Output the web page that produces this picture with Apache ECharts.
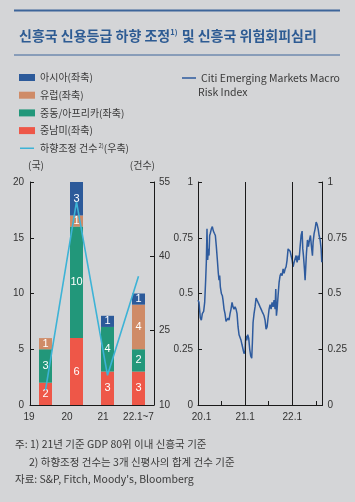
<!DOCTYPE html>
<html><head><meta charset="utf-8">
<script src="https://cdn.jsdelivr.net/npm/echarts@6/dist/echarts.min.js"></script>
<style>html,body{margin:0;padding:0;background:#d4d5d7;}#c{width:355px;height:502px;}</style>
</head><body><div id="c"></div>
<script>
// ---- data ----
const categories = ['19', '20', '21', '22.1~7'];
const latam = [2, 6, 3, 3];          // 중남미
const mea = [3, 10, 4, 2];           // 중동/아프리카
const europe = [1, 1, 0, 4];         // 유럽
const asia = [0, 3, 1, 1];           // 아시아
const downgrades = [13, 51, 16, 36]; // 하향조정 건수 (우축)
const leftTicks = [0, 5, 10, 15, 20];
const rightTicks = [10, 25, 40, 55];
const riskTicks = [0, 0.25, 0.5, 0.75, 1];
const riskDateLabels = {0: '20.1', 12: '21.1', 24: '22.1'};
// months since 2020-01
const riskMonths = [0,0.25,0.59,0.85,1.10,1.44,1.70,1.95,2.12,2.29,2.46,2.63,2.80,2.97,3.14,3.40,3.65,3.91,4.16,4.42,4.67,4.93,5.18,5.35,5.52,5.69,5.95,6.20,6.37,6.63,6.88,7.14,7.39,7.65,7.90,8.16,8.41,8.67,8.92,9.18,9.43,9.69,9.94,10.20,10.45,10.71,10.96,11.21,11.47,11.72,11.98,12.15,12.40,12.66,12.91,13.17,13.42,13.68,13.85,14.02,14.27,14.53,14.78,15.04,15.29,15.55,15.80,16.06,16.31,16.57,16.82,17.08,17.33,17.59,17.84,18.10,18.35,18.61,18.86,19.12,19.37,19.63,19.80,19.97,20.14,20.39,20.65,20.90,21.16,21.41,21.67,21.92,22.18,22.43,22.68,22.94,23.19,23.45,23.70,23.96,24.21,24.47,24.72,24.98,25.23,25.49,25.74,26.00,26.25,26.51,26.68,26.85,27.10,27.27,27.44,27.61,27.87,28.12,28.38,28.63,28.89,29.14,29.31,29.57,29.82,30.08,30.33,30.59,30.84,31.10,31.35,31.52];
const riskValues = [0.47,0.46,0.39,0.38,0.41,0.42,0.46,0.56,0.64,0.79,0.65,0.70,0.67,0.76,0.77,0.79,0.80,0.78,0.77,0.76,0.71,0.65,0.59,0.56,0.58,0.53,0.50,0.49,0.47,0.43,0.41,0.375,0.37,0.39,0.38,0.41,0.43,0.46,0.44,0.43,0.44,0.43,0.41,0.35,0.315,0.31,0.29,0.27,0.25,0.23,0.24,0.31,0.29,0.315,0.30,0.25,0.22,0.21,0.28,0.37,0.41,0.44,0.48,0.47,0.46,0.45,0.44,0.43,0.42,0.41,0.40,0.38,0.34,0.35,0.39,0.43,0.45,0.43,0.46,0.44,0.47,0.43,0.52,0.40,0.43,0.49,0.55,0.58,0.59,0.58,0.61,0.59,0.61,0.62,0.65,0.70,0.70,0.69,0.67,0.65,0.62,0.64,0.64,0.67,0.64,0.67,0.65,0.71,0.76,0.78,0.70,0.67,0.61,0.56,0.62,0.68,0.74,0.71,0.74,0.76,0.71,0.67,0.73,0.77,0.79,0.82,0.81,0.79,0.76,0.74,0.70,0.64];

// ---- styling ----
const NUM = 'Liberation Sans, Arial, sans-serif';
const KR = '"Noto Sans CJK KR", sans-serif';
const AX = '#1a1a1a';
const TXT = '#3a3a3a';
const C = {asia:'#2c5a9a', eu:'#cf8b67', mea:'#22977a', latam:'#ee5748', line:'#3db3d6', risk:'#2e5b9e'};
const labelPad = [33, 19, 9, 0];
const lineIcon = 'path://M0,0h0.01v0.01h-0.01zM0,3.1h16v1.8h-16zM15.99,7.99h0.01v0.01h-0.01z';

const chart = echarts.init(document.getElementById('c'), null, {renderer:'canvas'});
const barLabel = {show:true, color:'#fff', fontSize:11, fontFamily:NUM, formatter: p => p.value ? p.value : ''};
function bar(name, data, color){
  return {name, type:'bar', stack:'a', xAxisIndex:0, yAxisIndex:0, barWidth:13, data,
    itemStyle:{color}, label:barLabel, emphasis:{disabled:true}};
}
const axisLine = {show:true, lineStyle:{color:AX, width:1}};
const tickIn = {show:true, inside:true, length:4, lineStyle:{color:AX}};
const numLabel = {color:'#333', fontSize:10, fontFamily:NUM};
const noteFont = '10.5px "Noto Sans CJK KR", sans-serif';

chart.setOption({
  backgroundColor:'#d4d5d7',
  animation:false,
  title:{
    text:'{a|신흥국 신용등급 하향 조정}{s|1)}{a| 및 신흥국 위험회피심리}',
    left:14, top:23,
    textStyle:{rich:{
      a:{fontSize:14, fontWeight:'bold', color:'#2d5b93', fontFamily:KR},
      s:{fontSize:7.5, fontWeight:'bold', color:'#2d5b93', fontFamily:KR, padding:[0,1,8,0]}
    }}
  },
  graphic:[
    {type:'line', shape:{x1:14, y1:10.5, x2:340, y2:10.5}, style:{stroke:'#3d659a', lineWidth:2}},
    {type:'line', shape:{x1:14, y1:55, x2:340, y2:55}, style:{stroke:'#3d659a', lineWidth:1}},
    {type:'text', left:198, top:86.5, style:{text:'Risk Index', font:'10.5px "Noto Sans CJK KR", sans-serif', fill:TXT}},
    {type:'text', left:15, top:439, style:{text:'주: 1) 21년 기준 GDP 80위 이내 신흥국 기준', font:noteFont, fill:TXT}},
    {type:'text', left:29, top:457, style:{text:'2) 하향조정 건수는 3개 신평사의 합계 건수 기준', font:noteFont, fill:TXT}},
    {type:'text', left:15, top:474, style:{text:"자료: S&P, Fitch, Moody's, Bloomberg", font:noteFont, fill:TXT}}
  ],
  legend:[
    {
      left:14, top:66, orient:'vertical', itemWidth:16, itemHeight:7, itemGap:4.7,
      selectedMode:false,
      data:[
        {name:'아시아(좌축)', icon:'rect'},
        {name:'유럽(좌축)', icon:'rect'},
        {name:'중동/아프리카(좌축)', icon:'rect'},
        {name:'중남미(좌축)', icon:'rect'},
        {name:'하향조정 건수(우축)', icon:lineIcon}
      ],
      formatter: n => n === '하향조정 건수(우축)' ? '{t|하향조정 건수}{s|2)}{t|(우축)}' : '{t|' + n + '}',
      textStyle:{color:TXT, fontSize:10, fontFamily:KR, lineHeight:13,
        rich:{t:{fontSize:10, fontFamily:KR, color:TXT, lineHeight:13}, s:{fontSize:6, fontFamily:KR, color:TXT, padding:[0,0,6,1]}}}
    },
    {
      left:177, top:66.5, orient:'vertical', itemWidth:14, itemHeight:7,
      selectedMode:false,
      data:[{name:'Citi Emerging Markets Macro Risk Index', icon:lineIcon}],
      formatter: () => 'Citi Emerging Markets Macro',
      textStyle:{color:TXT, fontSize:10.5, fontFamily:KR, lineHeight:13}
    }
  ],
  grid:[
    {left:30, top:182, width:124, height:223},
    {left:198, top:182, width:124.5, height:223}
  ],
  xAxis:[
    {type:'category', gridIndex:0,
      data: categories.map((c,i)=>({value:c, textStyle:{padding:[0, labelPad[i], 0, 0]}})),
      axisLine, axisTick:{show:false},
      axisLabel:{...numLabel, margin:7, interval:0, hideOverlap:false}},
    {type:'value', gridIndex:1, min:0, max:31.7, interval:6,
      axisLine, axisTick:tickIn, splitLine:{show:false},
      axisLabel:{...numLabel, margin:7, showMaxLabel:false,
        formatter: v => v === 0 ? '{p|' + riskDateLabels[v] + '}' : (riskDateLabels[v] || ''),
        rich:{p:{...numLabel, padding:[0,0,0,7]}}}}
  ],
  yAxis:[
    {type:'value', gridIndex:0, position:'left', min:0, max:20, interval:5,
      axisLine, axisTick:tickIn, splitLine:{show:false},
      axisLabel:{...numLabel, margin:6, customValues:leftTicks},
      name:'(국)', nameLocation:'end', nameGap:12,
      nameTextStyle:{color:TXT, fontSize:10, fontFamily:KR, align:'left', padding:[0,0,0,-2]}},
    {type:'value', gridIndex:0, position:'right', min:10, max:55,
      axisLine, axisTick:{...tickIn, customValues:rightTicks}, splitLine:{show:false},
      axisLabel:{...numLabel, margin:5, customValues:rightTicks},
      name:'(건수)', nameLocation:'end', nameGap:12,
      nameTextStyle:{color:TXT, fontSize:10, fontFamily:KR, align:'right', padding:[0,-1,0,0]}},
    {type:'value', gridIndex:1, position:'left', min:0, max:1, interval:0.25,
      axisLine, axisTick:tickIn, splitLine:{show:false},
      axisLabel:{...numLabel, margin:5, customValues:riskTicks}},
    {type:'value', gridIndex:1, position:'right', min:0, max:1, interval:0.25,
      axisLine, axisTick:tickIn, splitLine:{show:false},
      axisLabel:{...numLabel, margin:5, customValues:riskTicks}}
  ],
  series:[
    bar('중남미(좌축)', latam, C.latam),
    bar('중동/아프리카(좌축)', mea, C.mea),
    bar('유럽(좌축)', europe, C.eu),
    bar('아시아(좌축)', asia, C.asia),
    {name:'하향조정 건수(우축)', type:'line', xAxisIndex:0, yAxisIndex:1, data:downgrades,
      symbol:'none', color:C.line, lineStyle:{color:C.line, width:1.6}, z:5},
    {name:'Citi Emerging Markets Macro Risk Index', type:'line', xAxisIndex:1, yAxisIndex:2,
      data: riskMonths.map((m,i)=>[m, riskValues[i]]),
      symbol:'none', color:C.risk, lineStyle:{color:C.risk, width:1.5},
      markLine:{silent:true, symbol:'none', label:{show:false},
        lineStyle:{color:AX, width:1, type:'solid'},
        data:[{xAxis:12},{xAxis:24}]}}
  ]
});
</script></body></html>
